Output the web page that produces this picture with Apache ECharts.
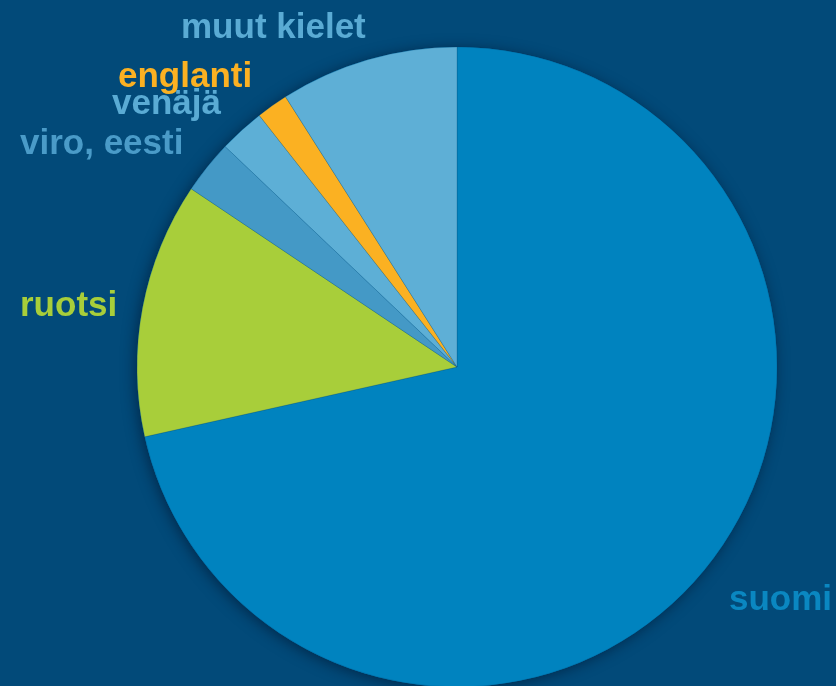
<!DOCTYPE html>
<html lang="fi">
<head>
    <meta charset="UTF-8">
    <title>Kielet</title>
    <style>
        *{
            margin: 0;
            padding: 0;
        }
        body{
            background: #024a79;
        }
        .main{
            width: 836px;
            height: 686px;
        }
    </style>
    <script src="https://cdn.jsdelivr.net/npm/echarts@6/dist/echarts.min.js"></script>
</head>
<body>
<div class="main"></div>
<script>
    // kielet ja osuudet (%), luettu kuvasta
    let names = ['suomi', 'ruotsi', 'viro, eesti', 'venäjä', 'englanti', 'muut kielet'];
    let values = [71.5, 12.9, 2.7, 2.3, 1.6, 9.0];
    let colors = ['#0083bf', '#a8ce3a', '#4499c6', '#5dafd6', '#fbb122', '#5eafd6'];
    let labelColors = ['#0a87c1', '#a8ce3a', '#4a9bc8', '#5aabd4', '#fbb122', '#5aabd4'];
    // label positions (left edge, middle)
    let labelPos = [[729, 600], [20, 306], [20, 144], [112, 104], [118, 77], [181, 28]];

    let main = document.querySelector('.main');
    let chart = echarts.init(main);

    let data = names.map((n, i) => ({
        name: n,
        value: values[i],
        itemStyle: {color: colors[i]},
        label: {color: labelColors[i]}
    }));

    let option = {
        backgroundColor: '#024a79',
        animation: false,
        series: [
            {
                // shadow disc behind the pie
                type: 'pie',
                silent: true,
                center: [457, 367],
                radius: 320,
                z: 1,
                label: {show: false},
                labelLine: {show: false},
                data: [{
                    value: 1,
                    itemStyle: {
                        color: '#0083bf',
                        shadowBlur: 14,
                        shadowColor: 'rgba(0, 20, 45, 0.6)',
                        shadowOffsetX: -2,
                        shadowOffsetY: 2
                    }
                }]
            },
            {
                type: 'pie',
                center: [457, 367],
                radius: 320,
                startAngle: 90,
                clockwise: true,
                z: 2,
                itemStyle: {
                    borderColor: 'rgba(0, 60, 100, 0.35)',
                    borderWidth: 0.6
                },
                label: {
                    show: true,
                    position: 'outside',
                    overflow: 'none',
                    fontFamily: 'Liberation Sans',
                    fontWeight: 'bold',
                    fontSize: 35
                },
                labelLine: {show: false},
                labelLayout: function (p) {
                    let pos = labelPos[p.dataIndex];
                    return {
                        x: pos[0],
                        y: pos[1],
                        align: 'left',
                        verticalAlign: 'middle',
                        moveOverlap: false,
                        hideOverlap: false
                    };
                },
                data: data
            }
        ]
    };
    chart.setOption(option);
</script>
</body>
</html>
